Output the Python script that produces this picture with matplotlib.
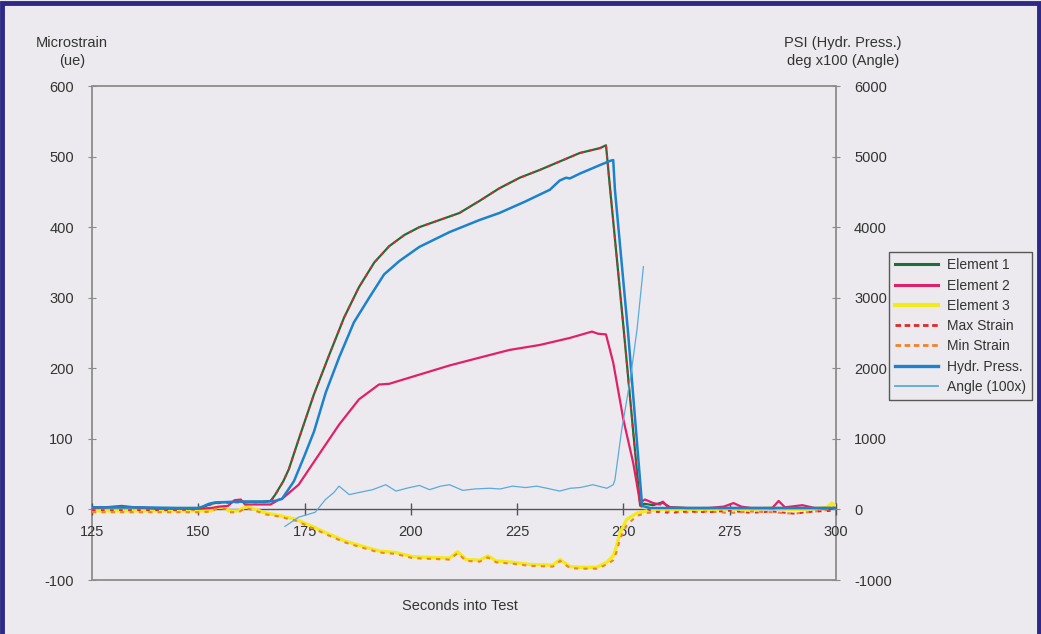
import matplotlib
matplotlib.use("Agg")
import matplotlib.pyplot as plt
from matplotlib.patches import Rectangle
from matplotlib.lines import Line2D

plt.rcParams['font.family'] = ['Liberation Sans', 'DejaVu Sans']
plt.rcParams['axes.unicode_minus'] = False

# ---------------- data ----------------
t_elem1 = [125, 130, 135, 140, 145, 150, 151, 153, 155, 160, 165, 167, 168, 170, 171.3,
           173.6, 177.2, 180.8, 184.3, 187.8, 191.4, 194.9, 198.5, 202, 206.7,
           211.4, 216.1, 220.8, 225.6, 230.3, 235, 239.7, 244.5, 245.9, 246.9,
           250, 253.9, 255, 257, 259.1, 261, 265, 270, 275, 280, 285, 290, 295, 300]
element1 = [3, 3, 3, 2, 2, 2, 3, 8, 10, 11, 11, 12, 20, 40, 57,
            99, 163, 219, 272, 315, 350, 373, 389, 400, 410,
            420, 437, 455, 470, 481, 493, 505, 512, 516, 452,
            259, 7, 8, 6, 10, 3, 2, 2, 2, 2, 2, 2, 2, 2]
max_strain = [-1, -1, -1, -1, -1, 0, 2, 7, 9, 10, 10, 11, 19, 40, 57,
              99, 163, 219, 272, 315, 350, 373, 389, 400, 410,
              420, 437, 455, 470, 481, 493, 505, 512, 516, 452,
              259, 5, 2, -3, -4, -5, -3, -4, -2, -5, -3, -6, -3, -2]

t_elem2 = [125, 128, 132, 135, 140, 150, 153, 155, 157, 158.5, 160, 161, 163, 167, 169,
           169.7, 173.6, 178.4, 183.1, 187.8, 192.5, 194.9, 202, 209.1, 216.1,
           223.2, 230.3, 237.4, 242.6, 244, 245.9, 247.6, 250, 252.3, 253.9,
           255.1, 257, 258.6, 259.3, 260.5, 265, 270, 273.6, 275.9, 277.7,
           280, 285, 286.5, 288, 292.1, 295, 300]
element2 = [2, 3, 5, 3, 1, 1, 2, 4, 5, 13, 14, 7, 7, 7, 14,
            15, 35, 78, 120, 156, 177, 178, 191, 204, 215,
            226, 233, 243, 252, 249, 248, 208, 127, 66, 10,
            14, 9, 7, 11, 3, 2, 2, 4, 9, 4,
            2, 2, 12, 3, 6, 2, 2]

t_elem3 = [125, 130, 140, 150, 153.2, 154.1, 156.4, 157.1, 159.5, 161.1,
           163, 165.8, 168.9, 172.9, 176.7, 180.7, 184.6, 188.5, 192.5, 196.4,
           200.4, 204.4, 209.1, 211, 213, 216.2, 218.1, 220.1, 224, 228,
           233.4, 235.1, 237.4, 239.8, 243.7, 246.1, 247.6, 248.4, 249.2, 250.8,
           253.2, 255.5, 258.7, 265, 270, 275, 280, 285, 290, 295, 298, 299, 300]
element3 = [-2, -2, -2, -2, -2, 3, 3, -2, -2, 4,
            1, -5, -8.5, -14, -24, -35, -45, -52, -59, -61,
            -67, -68, -69, -60, -71, -72, -66, -73, -75, -78,
            -79, -71, -81, -82, -82, -75, -66, -52, -33, -14,
            -5, -2, 0, 0, -1, 1, 0, 2, 0, 1, 3, 9, 4]
min_strain = [-4, -4, -4, -4, -3, 1, 1, -4, -4, 2,
              -1, -7, -10, -16, -26, -37, -47, -54, -61, -63,
              -69, -70, -71, -62, -73, -74, -68, -75, -77, -80,
              -81, -73, -83, -84, -84, -78, -72, -60, -42, -22,
              -9, -5, -3, -4, -3, -5, -3, -4, -6, -3, -1, 4, 1]

t_press = [125, 135, 145, 150, 151, 152.5, 154, 160, 166, 168,
           169.7, 172.5, 174.9, 177.2, 180, 183.1, 186.6, 190.2, 193.7, 197.3,
           202, 209.1, 216.1, 220.8, 226.8, 232.7, 235, 236.5, 237.4, 239.8,
           244.5, 246.9, 247.6, 248, 251.1, 254.4, 256.3, 260, 270, 280, 290, 300]
hydr_press = [30, 30, 20, 20, 40, 80, 100, 110, 110, 120,
              150, 400, 750, 1100, 1660, 2150, 2650, 3000, 3330, 3520,
              3720, 3930, 4100, 4200, 4360, 4530, 4660, 4700, 4690, 4760,
              4880, 4940, 4950, 4530, 2500, 50, 20, 20, 20, 20, 20, 20]

t_angle = [170.4, 173.6, 177.5, 179.9, 181.9, 183.1, 185.5, 187.8, 191, 194.1,
           196.5, 199, 202, 204.4, 207, 209.1, 212.2, 215, 218.5, 221,
           223.9, 227, 229.6, 232, 235, 237.5, 239.8, 242.8, 246.1, 247.6,
           248, 249.6, 251.6, 253.2, 254.7]
angle_x100 = [-240, -110, -40, 140, 240, 330, 210, 240, 280, 350,
              260, 300, 340, 280, 330, 350, 270, 290, 300, 290,
              330, 310, 330, 300, 260, 300, 310, 350, 300, 350,
              420, 1130, 1840, 2550, 3440]

x_ticks = [125, 150, 175, 200, 225, 250, 275, 300]
left_ticks = [-100, 0, 100, 200, 300, 400, 500, 600]
right_ticks = [-1000, 0, 1000, 2000, 3000, 4000, 5000, 6000]

# ---------------- styling ----------------
BG = '#ECEAEE'
TXT = '#333333'
C_E1 = '#1E6E3C'
C_E2 = '#E0206A'
C_E3 = '#F2EA1A'
C_MAX = '#E02828'
C_MIN = '#F08228'
C_P = '#1C82CC'
C_A = '#5AAADC'
FS = 10.5

fig = plt.figure(figsize=(10.41, 6.34), dpi=100, facecolor=BG)
ax = fig.add_axes([92/1041, 1-580/634, (836-92)/1041, (580-86)/634])
ax.set_facecolor('none')
ax2 = ax.twinx()

l_e3, = ax.plot(t_elem3, element3, color=C_E3, lw=2.4, zorder=3)
l_min, = ax.plot(t_elem3, min_strain, color=C_MIN, lw=1.5, ls=(0, (2, 2.5)), zorder=4)
l_e1, = ax.plot(t_elem1, element1, color=C_E1, lw=1.6, zorder=3)
l_max, = ax.plot(t_elem1, max_strain, color=C_MAX, lw=1.3, ls=(0, (2, 3)), zorder=4)
l_e2, = ax.plot(t_elem2, element2, color=C_E2, lw=1.6, zorder=3)
l_p, = ax2.plot(t_press, hydr_press, color=C_P, lw=1.8, zorder=3)
l_a, = ax2.plot(t_angle, angle_x100, color=C_A, lw=0.9, zorder=3)

ax.set_xlim(125, 300)
ax.set_ylim(-100, 600)
ax2.set_ylim(-1000, 6000)
ax.set_xticks(x_ticks)
ax.set_yticks(left_ticks)
ax2.set_yticks(right_ticks)

for s in ['top', 'right', 'left']:
    ax.spines[s].set_visible(False)
for s in ax2.spines.values():
    s.set_visible(False)
ax.spines['bottom'].set_position(('data', 0))
ax.spines['bottom'].set_color('#555555')
ax.spines['bottom'].set_linewidth(1.0)
ax.spines['bottom'].set_zorder(2)

ax.add_patch(Rectangle((0, 0), 1, 1, transform=ax.transAxes, fill=False,
                       edgecolor='#8C8C8C', lw=1.3, clip_on=False, zorder=1))

ax.tick_params(axis='x', direction='inout', length=8, width=1, color='#555555',
               labelsize=FS, labelcolor=TXT, pad=7)
ax.tick_params(axis='y', direction='inout', length=6, width=0.8, color='#8C8C8C',
               labelsize=FS, labelcolor=TXT, pad=10)
ax2.tick_params(axis='y', direction='inout', length=6, width=0.8, color='#8C8C8C',
                labelsize=FS, labelcolor=TXT, pad=10)

fig.text(72/1041, 1-52/634, 'Microstrain\n(ue)', ha='center', va='center',
         fontsize=FS, color=TXT, linespacing=1.35)
fig.text(843/1041, 1-52/634, 'PSI (Hydr. Press.)\ndeg x100 (Angle)', ha='center',
         va='center', fontsize=FS, color=TXT, linespacing=1.35)
fig.text(460/1041, 1-606/634, 'Seconds into Test', ha='center', va='center',
         fontsize=FS, color=TXT)

h_e1 = Line2D([], [], color=C_E1, lw=2.2)
h_e2 = Line2D([], [], color=C_E2, lw=2.2)
h_e3 = Line2D([], [], color=C_E3, lw=3)
h_max = Line2D([], [], color=C_MAX, lw=2, ls=(0, (2, 1.3)))
h_min = Line2D([], [], color=C_MIN, lw=2, ls=(0, (2, 1.3)))
h_p = Line2D([], [], color=C_P, lw=2.4)
h_a = Line2D([], [], color=C_A, lw=1.3)
leg = fig.legend([h_e1, h_e2, h_e3, h_max, h_min, h_p, h_a],
                 ['Element 1', 'Element 2', 'Element 3', 'Max Strain', 'Min Strain',
                  'Hydr. Press.', 'Angle (100x)'],
                 loc='upper left', bbox_to_anchor=(889/1041, 1-252/634),
                 bbox_transform=fig.transFigure, fontsize=10, frameon=True,
                 fancybox=False, handlelength=3.1, handletextpad=0.6,
                 labelspacing=0.45, borderpad=0.45, borderaxespad=0)
leg.get_frame().set_facecolor(BG)
leg.get_frame().set_edgecolor('#333333')
leg.get_frame().set_linewidth(1.0)
for t in leg.get_texts():
    t.set_color(TXT)

# page border
fig.add_artist(Rectangle((0.002, -0.01), 0.996, 1.005, transform=fig.transFigure,
                         fill=False, edgecolor='#2C2A86', lw=3.5))

fig.savefig('out.png', dpi=100, facecolor=BG)
